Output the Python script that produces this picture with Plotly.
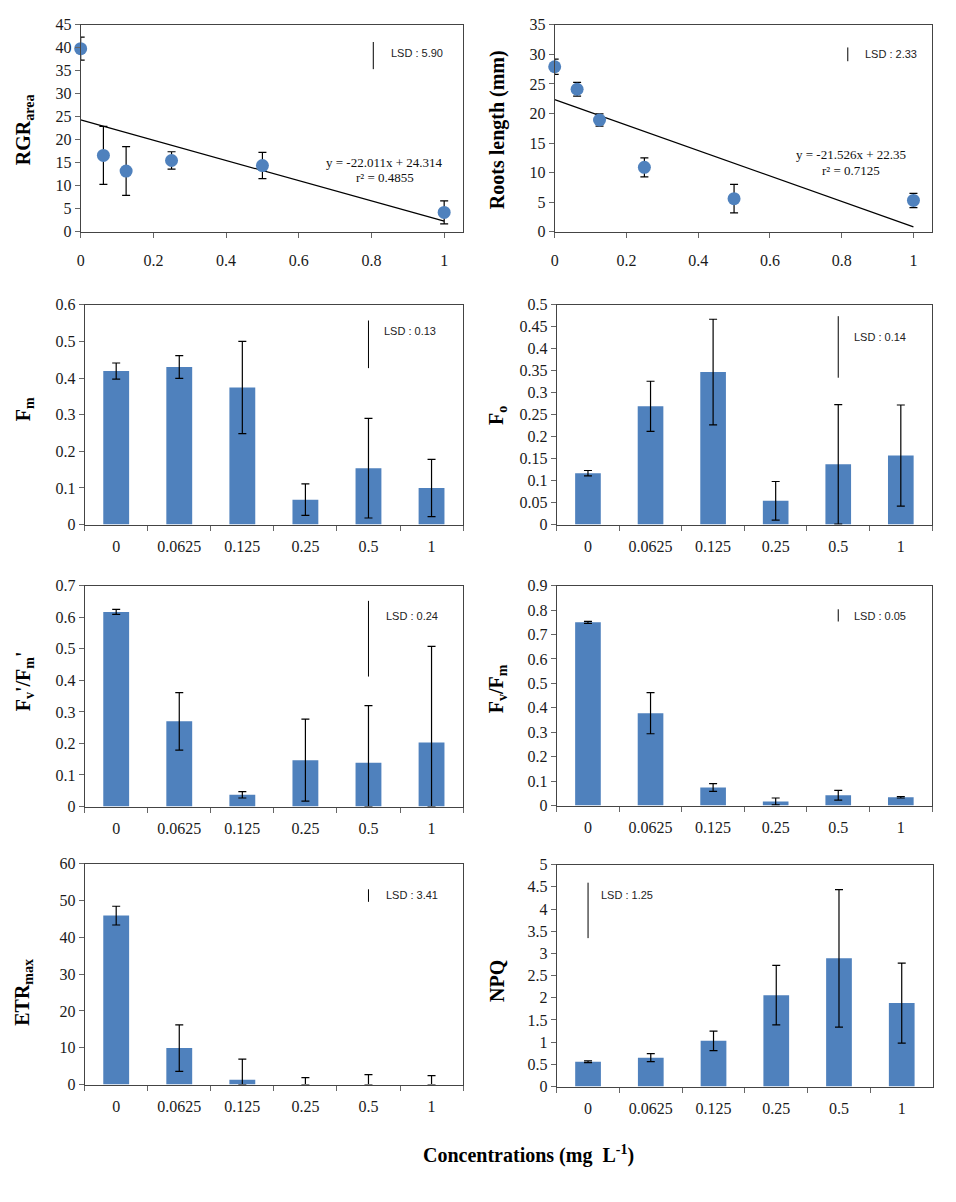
import plotly.graph_objects as go

W, H = 956, 1202

# ---------------- data ----------------
conc = [0, 0.0625, 0.125, 0.25, 0.5, 1]
cat_labels = ["0", "0.0625", "0.125", "0.25", "0.5", "1"]

rgr = [39.8, 16.6, 13.2, 15.5, 14.4, 4.2]
rgr_err = [2.5, 6.3, 5.3, 1.9, 2.85, 2.5]
rgr_fit = (-22.011, 24.314)

roots = [27.9, 24.1, 18.9, 10.9, 5.6, 5.3]
roots_err = [1.3, 1.15, 1.05, 1.6, 2.4, 1.2]
roots_fit = (-21.526, 22.35)

fm = [0.419, 0.430, 0.374, 0.068, 0.154, 0.100]
fm_err = [0.022, 0.031, 0.126, 0.043, 0.136, 0.078]

fo = [0.117, 0.269, 0.347, 0.054, 0.137, 0.157]
fo_err = [0.006, 0.057, 0.120, 0.044, 0.136, 0.115]

fvfm_p = [0.617, 0.270, 0.037, 0.147, 0.139, 0.203]
fvfm_p_err = [0.008, 0.091, 0.010, 0.130, 0.181, 0.305]

fvfm = [0.750, 0.378, 0.074, 0.017, 0.042, 0.034]
fvfm_err = [0.004, 0.084, 0.016, 0.014, 0.020, 0.003]

etr = [45.9, 9.9, 1.3, 0.0, 0.0, 0.0]
etr_err = [2.55, 6.3, 5.6, 1.9, 2.7, 2.4]

npq = [0.56, 0.65, 1.03, 2.06, 2.89, 1.88]
npq_err = [0.02, 0.09, 0.22, 0.67, 1.55, 0.90]

lsd_vals = ["5.90", "2.33", "0.13", "0.14", "0.24", "0.05", "3.41", "1.25"]

BLUE = "#4F81BD"
SERIF = "Liberation Serif, Times New Roman, serif"
SANS = "Liberation Sans, Arial, sans-serif"
TICKC = "#1a1a1a"

fig = go.Figure()


def dx(a, b):
    return [a / W, b / W]


def dy(top, bottom):
    return [1 - bottom / H, 1 - top / H]


# panel geometry (pixels): left, right, top, bottom
panels = [
    (77, 461, 17, 227),
    (553, 932, 17, 227),
    (81, 461, 301, 524),
    (555, 932, 301, 524),
    (81, 461, 586, 810),
    (555, 932, 586, 809),
    (81, 461, 868, 1092),
    (555, 933, 869, 1094),
]

yranges = [(45, 5), (35, 5), (0.6, 0.1), (0.5, 0.05), (0.7, 0.1), (0.9, 0.1), (60, 10), (5, 0.5)]

titles = [
    "RGR<sub>area</sub>",
    "Roots length (mm)",
    "F<sub>m</sub>",
    "F<sub>o</sub>",
    "F<sub>v</sub>'/F<sub>m</sub>'",
    "F<sub>v</sub>/F<sub>m</sub>",
    "ETR<sub>max</sub>",
    "NPQ",
]
title_pos = [(20, 123), (495, 123), (20, 407), (495, 413), (20, 683), (495, 690), (20, 998), (495, 987)]

layout = dict(
    width=W, height=H, margin=dict(l=0, r=0, t=0, b=0),
    plot_bgcolor="white", paper_bgcolor="white", showlegend=False,
)

for i, (l, r, t, b) in enumerate(panels):
    n = "" if i == 0 else str(i + 1)
    ymax, dt = yranges[i]
    yax = dict(
        domain=dy(t, b), anchor="x" + n, range=[0, ymax], dtick=dt, tick0=0,
        showgrid=False, zeroline=False, showline=True, linecolor="#444", linewidth=1,
        mirror=True, ticks="outside", ticklen=5, tickcolor="#666",
        tickfont=dict(family=SERIF, size=16, color=TICKC), fixedrange=True,
    )
    if i < 2:
        xax = dict(
            domain=dx(l, r), anchor="y" + n, range=[0, 1.052], tickvals=[0, 0.2, 0.4, 0.6, 0.8, 1],
            ticktext=["0", "0.2", "0.4", "0.6", "0.8", "1"],
            showgrid=False, zeroline=False, showline=True, linecolor="#444", linewidth=1,
            mirror=True, ticks="outside", ticklen=5, tickcolor="#666", ticklabelstandoff=9,
            tickfont=dict(family=SERIF, size=16, color=TICKC), fixedrange=True,
        )
    else:
        xax = dict(
            domain=dx(l, r), anchor="y" + n, type="category", categoryorder="array",
            categoryarray=cat_labels, tickson="boundaries",
            showgrid=False, zeroline=False, showline=True, linecolor="#444", linewidth=1,
            mirror=True, ticks="outside", ticklen=5, tickcolor="#666", ticklabelstandoff=7,
            tickfont=dict(family=SERIF, size=16, color=TICKC), fixedrange=True,
        )
    layout["xaxis" + n] = xax
    layout["yaxis" + n] = yax

annotations = []
for i, (tx, ty) in enumerate(title_pos):
    annotations.append(dict(
        text="<b>" + titles[i] + "</b>", x=tx / W, y=1 - ty / H, xref="paper", yref="paper",
        textangle=-90, showarrow=False, font=dict(family=SERIF, size=20, color="black"),
        xanchor="center", yanchor="middle",
    ))

annotations.append(dict(
    text="<b>Concentrations (mg  L<sup>-1</sup>)</b>", x=527 / W, y=1 - 1163 / H,
    xref="paper", yref="paper", showarrow=False,
    font=dict(family=SERIF, size=20, color="black"), xanchor="center", yanchor="middle",
))

# ---------- scatter panels ----------
scat = [
    (rgr, rgr_err, rgr_fit, "", 0.805, 38.3, 0.849, 38.8, 0.836, 15.1, 11.8, "0.4855", 5.90),
    (roots, roots_err, roots_fit, "2", 0.817, 30.0, 0.859, 30.0, 0.826, 13.05, 10.4, "0.7125", 2.33),
]
for k, (vals, errs, fit, n, lx, lc, tx, ty, ex, ey1, ey2, r2, lsd) in enumerate(scat):
    fig.add_trace(go.Scatter(
        x=[0, 1], y=[fit[1], fit[0] * 1 + fit[1]], mode="lines",
        line=dict(color="black", width=1.2), xaxis="x" + n, yaxis="y" + n, hoverinfo="skip",
    ))
    fig.add_trace(go.Scatter(
        x=conc, y=vals, mode="markers", cliponaxis=False,
        marker=dict(color=BLUE, size=13, line=dict(width=0)),
        error_y=dict(type="data", array=errs, color="black", thickness=1.2, width=4),
        xaxis="x" + n, yaxis="y" + n,
    ))
    fig.add_trace(go.Scatter(
        x=[lx, lx], y=[lc - lsd / 2, lc + lsd / 2], mode="lines",
        line=dict(color="black", width=1), xaxis="x" + n, yaxis="y" + n, hoverinfo="skip",
    ))
    annotations.append(dict(
        text="LSD : " + lsd_vals[k], x=tx, y=ty, xref="x" + n, yref="y" + n,
        showarrow=False, xanchor="left", yanchor="middle",
        font=dict(family=SANS, size=11, color="#222"),
    ))
    sign = "-" if fit[0] < 0 else ""
    annotations.append(dict(
        text="y = %s%sx + %s" % (sign, ("%g" % abs(fit[0])), ("%g" % fit[1])),
        x=ex, y=ey1, xref="x" + n, yref="y" + n, showarrow=False,
        xanchor="center", yanchor="middle", font=dict(family=SERIF, size=13, color="#111"),
    ))
    annotations.append(dict(
        text="r² = " + r2, x=ex, y=ey2, xref="x" + n, yref="y" + n, showarrow=False,
        xanchor="center", yanchor="middle", font=dict(family=SERIF, size=13, color="#111"),
    ))

# ---------- bar panels ----------
bars = [
    (fm, fm_err, "3", "0.5", 0.492, 4.22, 0.528, 0.13, lsd_vals[2]),
    (fo, fo_err, "4", "0.5", 0.404, 4.22, 0.427, 0.14, lsd_vals[3]),
    (fvfm_p, fvfm_p_err, "5", "0.5", 0.532, 4.24, 0.603, 0.24, lsd_vals[4]),
    (fvfm, fvfm_err, "6", "0.5", 0.7785, 4.22, 0.778, 0.05, lsd_vals[5]),
    (etr, etr_err, "7", "0.5", 51.35, 4.24, 51.5, 3.41, lsd_vals[6]),
    (npq, npq_err, "8", "0", 3.97, 0.18, 4.31, 1.25, lsd_vals[7]),
]
for vals, errs, n, lcat, lc, tx, ty, lsd, ltxt in bars:
    minus = [min(e, v) for e, v in zip(errs, vals)]
    fig.add_trace(go.Bar(
        x=cat_labels, y=vals, width=0.41, marker=dict(color=BLUE, line=dict(width=0)),
        error_y=dict(type="data", array=errs, arrayminus=minus, color="black", thickness=1.2, width=4),
        xaxis="x" + n, yaxis="y" + n,
    ))
    fig.add_trace(go.Scatter(
        x=[lcat, lcat], y=[lc - lsd / 2, lc + lsd / 2], mode="lines",
        line=dict(color="black", width=1), xaxis="x" + n, yaxis="y" + n, hoverinfo="skip",
    ))
    annotations.append(dict(
        text="LSD : " + ltxt, x=tx, y=ty, xref="x" + n, yref="y" + n,
        showarrow=False, xanchor="left", yanchor="middle",
        font=dict(family=SANS, size=11, color="#222"),
    ))

layout["annotations"] = annotations
fig.update_layout(**layout)
fig.write_html("out.html")
